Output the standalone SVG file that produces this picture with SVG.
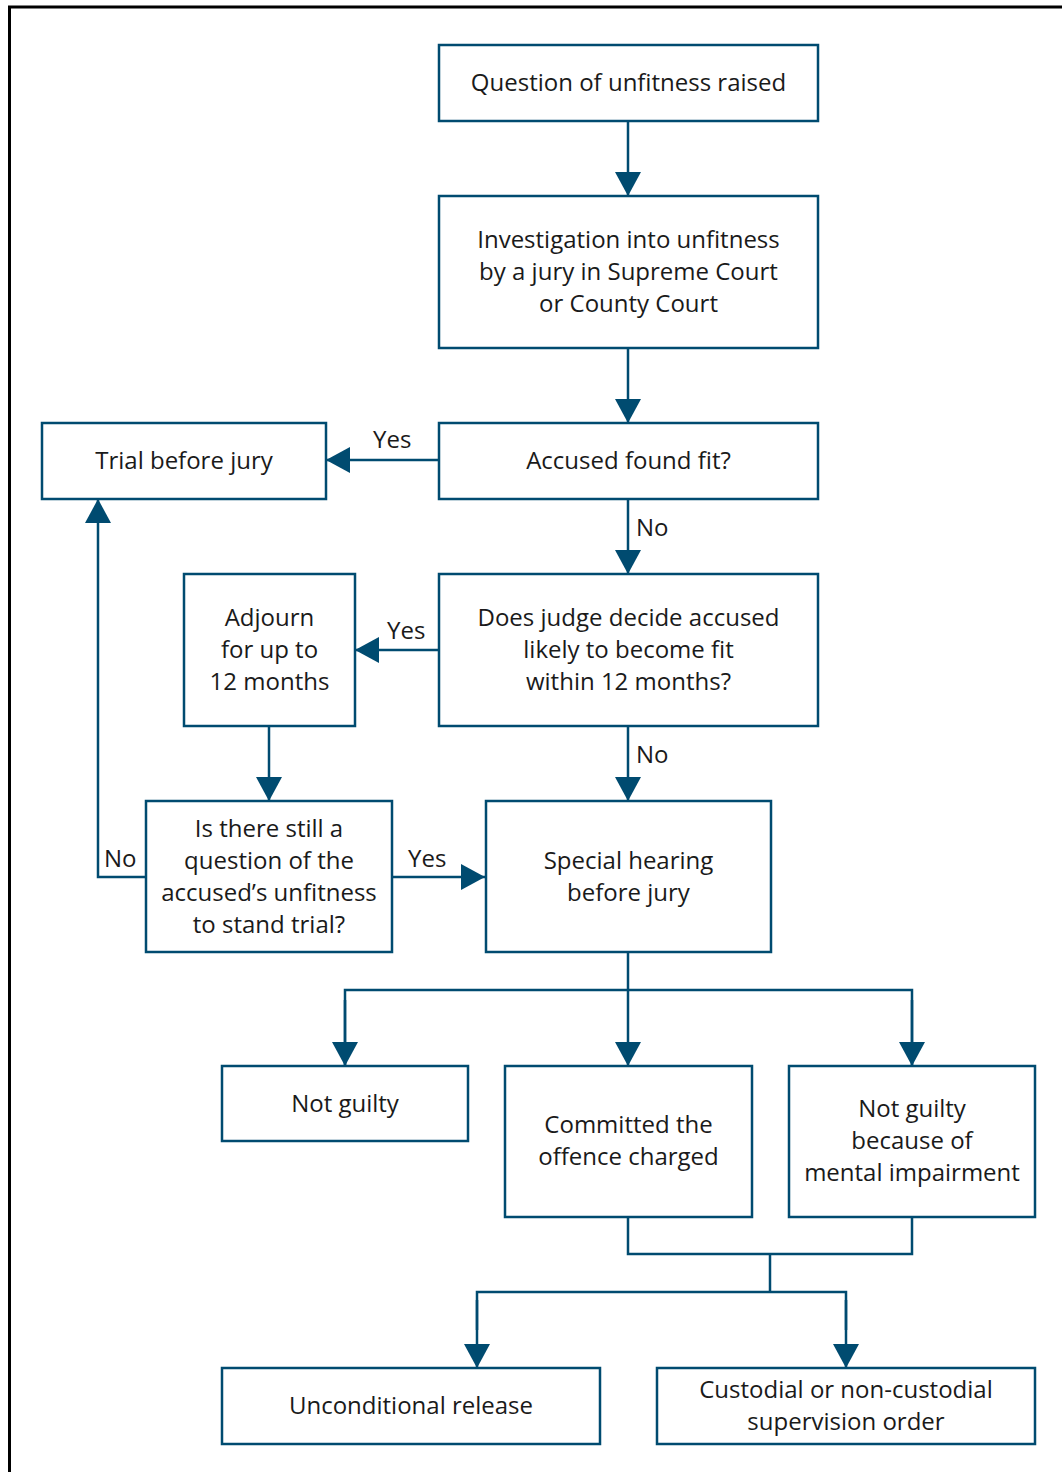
<svg xmlns="http://www.w3.org/2000/svg" width="1062" height="1472" viewBox="0 0 1062 1472">
<style>
.box{fill:#fff;stroke:#004b70;stroke-width:2.5}
.ln{fill:none;stroke:#004b70;stroke-width:2.5}
text{font-family:"Open Sans","Noto Sans","Liberation Sans",sans-serif;font-size:24px;fill:#1a1a1a;text-anchor:middle;dominant-baseline:central}
.lbl{text-anchor:start}
</style>
<defs>
<marker id="ah" viewBox="0 0 24 26" refX="24" refY="13" markerWidth="24" markerHeight="26" markerUnits="userSpaceOnUse" orient="auto">
<path d="M0,0 L24,13 L0,26 Z" fill="#004b70"/>
</marker>
</defs>
<rect x="0" y="0" width="1062" height="1472" fill="#fff"/>
<rect x="9.5" y="7" width="1100" height="1500" fill="none" stroke="#000" stroke-width="3"/>
<g id="connectors">
<line class="ln" x1="628" y1="121" x2="628" y2="196" marker-end="url(#ah)"/>
<line class="ln" x1="628" y1="348" x2="628" y2="423" marker-end="url(#ah)"/>
<line class="ln" x1="439" y1="460" x2="326" y2="460" marker-end="url(#ah)"/>
<line class="ln" x1="628" y1="499" x2="628" y2="574" marker-end="url(#ah)"/>
<line class="ln" x1="439" y1="650" x2="355" y2="650" marker-end="url(#ah)"/>
<line class="ln" x1="269" y1="726" x2="269" y2="801" marker-end="url(#ah)"/>
<line class="ln" x1="628" y1="726" x2="628" y2="801" marker-end="url(#ah)"/>
<line class="ln" x1="392" y1="877" x2="485" y2="877" marker-end="url(#ah)"/>
<polyline class="ln" points="146,877 98,877 98,499" marker-end="url(#ah)"/>
<line class="ln" x1="628" y1="952" x2="628" y2="1066" marker-end="url(#ah)"/>
<polyline class="ln" points="345,1066 345,990 912,990 912,1066"/>
<line class="ln" x1="345" y1="1000" x2="345" y2="1066" marker-end="url(#ah)"/>
<line class="ln" x1="912" y1="1000" x2="912" y2="1066" marker-end="url(#ah)"/>
<polyline class="ln" points="628,1217 628,1254 912,1254 912,1217"/>
<line class="ln" x1="770" y1="1254" x2="770" y2="1292"/>
<polyline class="ln" points="477,1330 477,1292 846,1292 846,1330"/>
<line class="ln" x1="477" y1="1300" x2="477" y2="1368" marker-end="url(#ah)"/>
<line class="ln" x1="846" y1="1300" x2="846" y2="1368" marker-end="url(#ah)"/>
<text class="lbl" x="373" y="438">Yes</text>
<text class="lbl" x="636" y="526">No</text>
<text class="lbl" x="387" y="629">Yes</text>
<text class="lbl" x="636" y="753">No</text>
<text class="lbl" x="408" y="857">Yes</text>
<text class="lbl" x="104" y="857">No</text>
</g>
<g id="n1"><rect class="box" x="439" y="45" width="379" height="76"/><text x="628.5" y="81">Question of unfitness raised</text></g>
<g id="n2"><rect class="box" x="439" y="196" width="379" height="152"/><text x="628.5" y="238">Investigation into unfitness</text><text x="628.5" y="270">by a jury in Supreme Court</text><text x="628.5" y="302">or County Court</text></g>
<g id="n3"><rect class="box" x="439" y="423" width="379" height="76"/><text x="628.5" y="459">Accused found fit?</text></g>
<g id="n4"><rect class="box" x="42" y="423" width="284" height="76"/><text x="184" y="459">Trial before jury</text></g>
<g id="n5"><rect class="box" x="439" y="574" width="379" height="152"/><text x="628.5" y="616">Does judge decide accused</text><text x="628.5" y="648">likely to become fit</text><text x="628.5" y="680">within 12 months?</text></g>
<g id="n6"><rect class="box" x="184" y="574" width="171" height="152"/><text x="269.5" y="616">Adjourn</text><text x="269.5" y="648">for up to</text><text x="269.5" y="680">12 months</text></g>
<g id="n7"><rect class="box" x="146" y="801" width="246" height="151"/><text x="269" y="827">Is there still a</text><text x="269" y="859">question of the</text><text x="269" y="891">accused’s unfitness</text><text x="269" y="923">to stand trial?</text></g>
<g id="n8"><rect class="box" x="486" y="801" width="285" height="151"/><text x="628.5" y="859">Special hearing</text><text x="628.5" y="891">before jury</text></g>
<g id="n9"><rect class="box" x="222" y="1066" width="246" height="75"/><text x="345" y="1102">Not guilty</text></g>
<g id="n10"><rect class="box" x="505" y="1066" width="247" height="151"/><text x="628.5" y="1123">Committed the</text><text x="628.5" y="1155">offence charged</text></g>
<g id="n11"><rect class="box" x="789" y="1066" width="246" height="151"/><text x="912" y="1107">Not guilty</text><text x="912" y="1139">because of</text><text x="912" y="1171">mental impairment</text></g>
<g id="n12"><rect class="box" x="222" y="1368" width="378" height="76"/><text x="411" y="1404">Unconditional release</text></g>
<g id="n13"><rect class="box" x="657" y="1368" width="378" height="76"/><text x="846" y="1388">Custodial or non-custodial</text><text x="846" y="1420">supervision order</text></g>
</svg>
